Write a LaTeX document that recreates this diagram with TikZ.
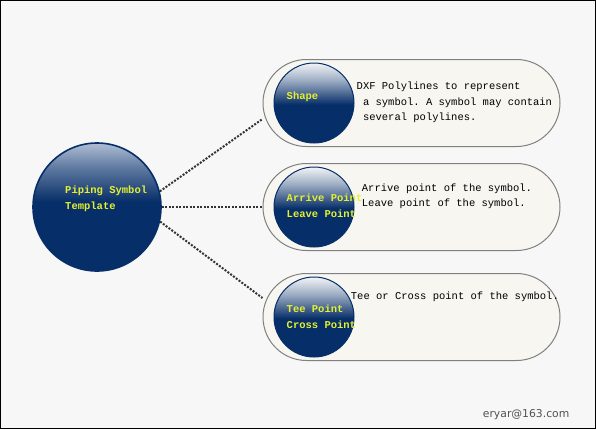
\documentclass[tikz,border=0pt]{standalone}
\usepackage{fontspec}
\setmonofont{Liberation Mono}
\newfontfamily\marksans{DejaVu Sans}
\usetikzlibrary{positioning}

\definecolor{navy}{RGB}{6,46,104}
\definecolor{orbtop}{RGB}{176,190,212}
\definecolor{pillfill}{RGB}{247,246,241}
\definecolor{pillline}{RGB}{128,128,128}
\definecolor{labelyel}{RGB}{228,240,48}
\definecolor{bgcol}{RGB}{247,247,247}

\pgfdeclareverticalshading{bigorb}{100bp}{color(0bp)=(navy); color(52bp)=(navy); color(66bp)=(orbtop!55!navy); color(75bp)=(orbtop); color(100bp)=(orbtop)}
\pgfdeclareverticalshading{smallorb}{100bp}{color(0bp)=(navy); color(49bp)=(navy); color(64bp)=(white!60!navy); color(75bp)=(white!95!navy); color(100bp)=(white)}

\begin{document}
\begin{tikzpicture}[
		x=1pt, y=-1pt,
		font=\ttfamily\fontsize{10.5}{15.5}\selectfont,
		orb/.style={circle, draw=navy, line width=1.6pt, shading=bigorb, minimum size=128pt, inner sep=0pt},
		pill/.style={draw=pillline, line width=1pt, fill=pillfill, rounded corners=43.5pt, minimum width=297pt, minimum height=87pt, inner sep=0pt},
		ball/.style={circle, draw=navy, line width=1pt, shading=smallorb, minimum size=80pt, inner sep=0pt},
		tag/.style={text=labelyel, font=\ttfamily\bfseries\fontsize{10.5}{16}\selectfont, align=left, anchor=base west, inner sep=0pt},
		note/.style={text=black, align=left, anchor=base west, inner sep=0pt},
		link/.style={draw=black!80, line width=2pt, dash pattern=on 2pt off 1.5pt}
	]

	\useasboundingbox (0,0) rectangle (596,429);
	\fill[bgcol] (0,0) rectangle (596,429);
	\draw[black, line width=1pt] (0.5,0.5) rectangle (595.5,428.5);

	\node[orb] (tmpl) at (97,207) {};
	\node[pill] (pillB) at (411.5,207) {};
	\node[pill, above=16pt of pillB] (pillA) {};
	\node[pill, below=22pt of pillB] (pillC) {};

	\node[ball, right=11pt of pillA.west] (ballA) {};
	\node[ball, right=11pt of pillB.west] (ballB) {};
	\node[ball, right=11pt of pillC.west] (ballC) {};

	\draw[link] (tmpl.14) -- ([yshift=-16pt]pillA.west);
	\draw[link] (tmpl.east) -- (pillB.west);
	\draw[link] (tmpl.-13) -- ([yshift=19pt]pillC.west);

	% multi-line nodes sit on the baseline of their last line
	\node[tag] (tmplTxt) at (65,209) {Piping Symbol\\Template};
	\node[tag] (shapeTxt) at (286.5,99.3) {Shape};
	\node[tag] (pointTxt) at (286.5,217.3) {Arrive Point\\Leave Point};
	\node[tag] (teeTxt) at (286.5,328) {Tee Point\\Cross Point};

	\node[note] (descA) at (356.5,120.7) {DXF Polylines to represent\\\ a symbol. A symbol may contain\\\ several polylines.};
	\node[note] (descB) at (361.7,206.7) {Arrive point of the symbol.\\Leave point of the symbol.};
	\node[note] (descC) at (350.7,299) {Tee or Cross point of the symbol.};

	\node[anchor=base west, inner sep=0pt, text=black!68, font=\marksans\fontsize{10.8}{13}\selectfont] (mark) at (482.7,417.7) {eryar@163.com};
\end{tikzpicture}
\end{document}
